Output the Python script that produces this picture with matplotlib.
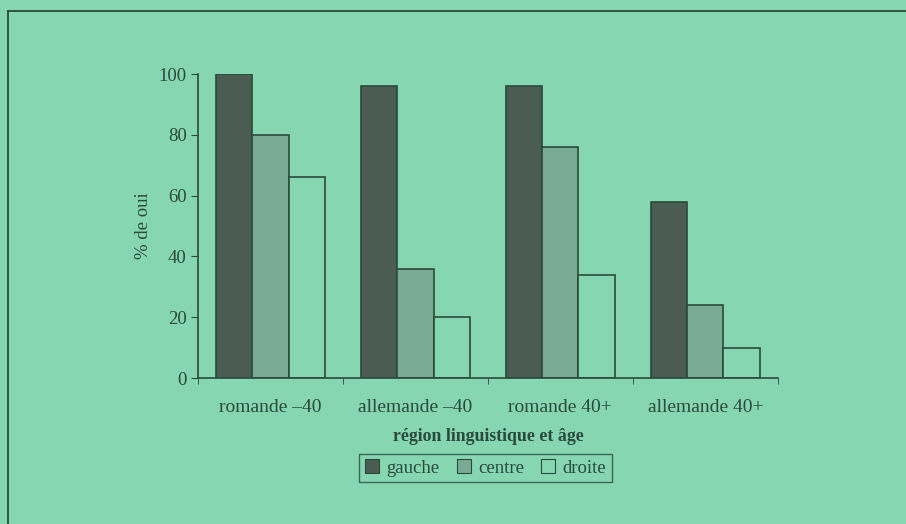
import numpy as np
from matplotlib import pyplot as plt
from matplotlib.lines import Line2D

OUTPUT_FILE = 'out.png'

groups = ['romande \u201340', 'allemande \u201340', 'romande 40+', 'allemande 40+']
series = ['gauche', 'centre', 'droite']
gauche = [100, 96, 96, 58]
centre = [80, 36, 76, 24]
droite = [66, 20, 34, 10]

BG = '#86d6b2'
INK = '#2a4a3b'
colors = ['#4b5d53', '#79ab93', BG]

plt.rcParams['font.family'] = ['Liberation Serif', 'DejaVu Serif']

fig = plt.figure(figsize=(9.06, 5.24), dpi=100, facecolor=BG)
ax = fig.add_axes([0.2185, 0.2786, 0.64, 0.58])
ax.set_facecolor(BG)

x = np.arange(len(groups))
w = 0.25
for i, (vals, name) in enumerate(zip([gauche, centre, droite], series)):
    ax.bar(x + (i - 1) * w, vals, w, color=colors[i], edgecolor=INK,
           linewidth=1.2, label=name)

ax.set_xlim(-0.5, 3.5)
ax.set_ylim(0, 100)
ax.set_yticks([0, 20, 40, 60, 80, 100])
ax.set_xticks(x)
ax.set_xticklabels(groups)
ax.set_xticks(np.arange(-0.5, 4, 1), minor=True)
ax.tick_params(axis='x', which='major', length=0, pad=15, labelsize=14, colors=INK)
ax.tick_params(axis='x', which='minor', length=4, direction='out', color=INK)
ax.tick_params(axis='y', length=5, direction='out', labelsize=13.5, colors=INK, pad=3)

for s in ['top', 'right']:
    ax.spines[s].set_visible(False)
for s in ['left', 'bottom']:
    ax.spines[s].set_color(INK)
    ax.spines[s].set_linewidth(1.2)

ax.set_xlabel('région linguistique et âge', fontsize=12.8, fontweight='bold',
              color=INK, labelpad=9)
ax.set_ylabel('% de oui', fontsize=13.5, color=INK, labelpad=5)

leg = fig.legend(loc='center', bbox_to_anchor=(0.536, 0.107), ncol=3,
                 fontsize=13.5, frameon=True, fancybox=False, handlelength=0.75,
                 handleheight=0.75, handletextpad=0.4, columnspacing=0.9,
                 borderpad=0.3, labelcolor=INK)
leg.get_frame().set_edgecolor(INK)
leg.get_frame().set_facecolor(BG)
leg.get_frame().set_linewidth(1.0)
for h in leg.legend_handles:
    h.set_linewidth(0.8)

# outer frame: top and left edges only
fig.add_artist(Line2D([8 / 906, 1], [1 - 11 / 524, 1 - 11 / 524],
                      transform=fig.transFigure, color=INK, linewidth=1.3))
fig.add_artist(Line2D([8 / 906, 8 / 906], [0, 1 - 11 / 524],
                      transform=fig.transFigure, color=INK, linewidth=1.3))

fig.savefig(OUTPUT_FILE, dpi=100, facecolor=BG)
